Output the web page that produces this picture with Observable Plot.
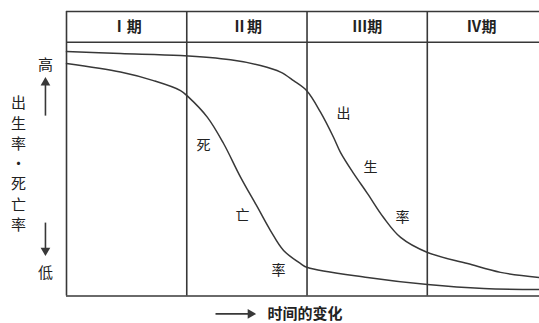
<!DOCTYPE html>
<html>
<head>
<meta charset="utf-8">
<script src="https://cdn.jsdelivr.net/npm/d3@7"></script>
<script src="https://cdn.jsdelivr.net/npm/@observablehq/plot@0.6"></script>
<style>
  html, body { margin: 0; padding: 0; background: #fff; }
</style>
</head>
<body>
<div id="chart"></div>
<script>
// Period headers and boundaries (time axis in "period" units)
const periods = ["Ⅰ期", "Ⅱ期", "Ⅲ期", "Ⅳ期"];
const periodCenters = [0.5, 1.5, 2.5, 3.45];
const boundaries = [0, 1, 2, 3];

// Birth rate curve (relative level 0–100)
const birthT = [0, 0.449, 0.948, 1.364, 1.613, 1.78, 1.888, 1.996, 2.112, 2.22, 2.279, 2.387, 2.503, 2.636, 2.778, 3.002, 3.335, 3.609, 3.933];
const birthV = [85.9, 85.2, 84.5, 83.0, 81.0, 78.7, 75.7, 72.2, 64.6, 55.8, 50.4, 43.1, 36.0, 27.6, 20.6, 15.3, 11.4, 8.3, 6.5];

// Death rate curve
const deathT = [0, 0.449, 0.723, 0.948, 1.015, 1.172, 1.306, 1.447, 1.588, 1.696, 1.805, 1.946, 2.004, 2.503, 3.002, 3.468, 3.933];
const deathV = [81.7, 78.7, 75.7, 72.2, 69.9, 62.8, 53.6, 41.8, 31.2, 23.0, 16.0, 11.4, 10.0, 6.5, 4.0, 2.6, 2.3];

// Curve labels (one character each)
const birthChars = ["出", "生", "率"];
const birthCharT = [2.304, 2.528, 2.794];
const birthCharV = [64.1, 45.2, 27.6];
const deathChars = ["死", "亡", "率"];
const deathCharT = [1.139, 1.464, 1.763];
const deathCharV = [52.9, 28.3, 9.0];

// Axis annotations
const yHigh = "高";
const yLow = "低";
const yTitle = "出生率·死亡率";
const xTitle = "时间的变化";
const headerLevel = 89.2;

const birth = birthT.map((t, i) => ({t, v: birthV[i]}));
const death = deathT.map((t, i) => ({t, v: deathV[i]}));
const bLabels = birthChars.map((c, i) => ({c, t: birthCharT[i], v: birthCharV[i]}));
const dLabels = deathChars.map((c, i) => ({c, t: deathCharT[i], v: deathCharV[i]}));
const headers = periods.map((p, i) => ({p, t: periodCenters[i]}));

const ink = "#383838";
const font = "'Noto Sans CJK SC', 'Noto Sans', sans-serif";

const chart = Plot.plot({
  width: 539,
  height: 323,
  marginLeft: 66,
  marginRight: 0,
  marginTop: 11,
  marginBottom: 27.5,
  x: {domain: [0, 3.933], axis: null},
  y: {domain: [0, 100], axis: null},
  style: {fontFamily: font, background: "#fff", color: ink},
  marks: [
    Plot.ruleY([0, headerLevel, 100], {stroke: ink, strokeWidth: 1.6}),
    Plot.ruleX(boundaries, {y1: 0, y2: 100, stroke: ink, strokeWidth: 1.6}),
    Plot.text(headers, {x: "t", y: 94.4, text: "p", fontSize: 15, fontWeight: "bold", fill: "#222"}),
    Plot.line(birth, {x: "t", y: "v", curve: "catmull-rom", stroke: ink, strokeWidth: 1.5}),
    Plot.line(death, {x: "t", y: "v", curve: "catmull-rom", stroke: ink, strokeWidth: 1.5}),
    Plot.text(bLabels, {x: "t", y: "v", text: "c", fontSize: 14, fill: "#222"}),
    Plot.text(dLabels, {x: "t", y: "v", text: "c", fontSize: 14, fill: "#222"}),
    // y annotations
    Plot.text([yHigh], {x: -0.175, y: 81.0, text: d => d, fontSize: 15, fill: "#222"}),
    Plot.text([yLow], {x: -0.175, y: 7.9, text: d => d, fontSize: 15, fill: "#222"}),
    Plot.text([yTitle], {x: -0.4, y: 46.9, text: d => d.split("").join("\n"), fontSize: 15, lineHeight: 1.35, fill: "#222"}),
    // up arrow
    Plot.link([0], {x1: -0.175, x2: -0.175, y1: 63.4, y2: 74.5, stroke: ink, strokeWidth: 1.6}),
    Plot.dot([0], {x: -0.175, y: 75.0, symbol: "triangle", r: 3.6, fill: ink, stroke: "none"}),
    // down arrow
    Plot.link([0], {x1: -0.175, x2: -0.175, y1: 25.8, y2: 16.5, stroke: ink, strokeWidth: 1.6}),
    Plot.dot([0], {x: -0.175, y: 16.0, symbol: "triangle", r: 3.6, rotate: 180, fill: ink, stroke: "none"}),
    // x annotation
    Plot.link([0], {x1: 1.239, x2: 1.52, y1: -6.3, y2: -6.3, stroke: ink, strokeWidth: 1.6}),
    Plot.dot([0], {x: 1.53, y: -6.3, symbol: "triangle", r: 3.6, rotate: 90, fill: ink, stroke: "none"}),
    Plot.text([xTitle], {x: 1.672, y: -6.3, text: d => d, textAnchor: "start", fontSize: 15, fontWeight: "bold", fill: "#222"})
  ]
});
document.getElementById("chart").appendChild(chart);
</script>
</body>
</html>
